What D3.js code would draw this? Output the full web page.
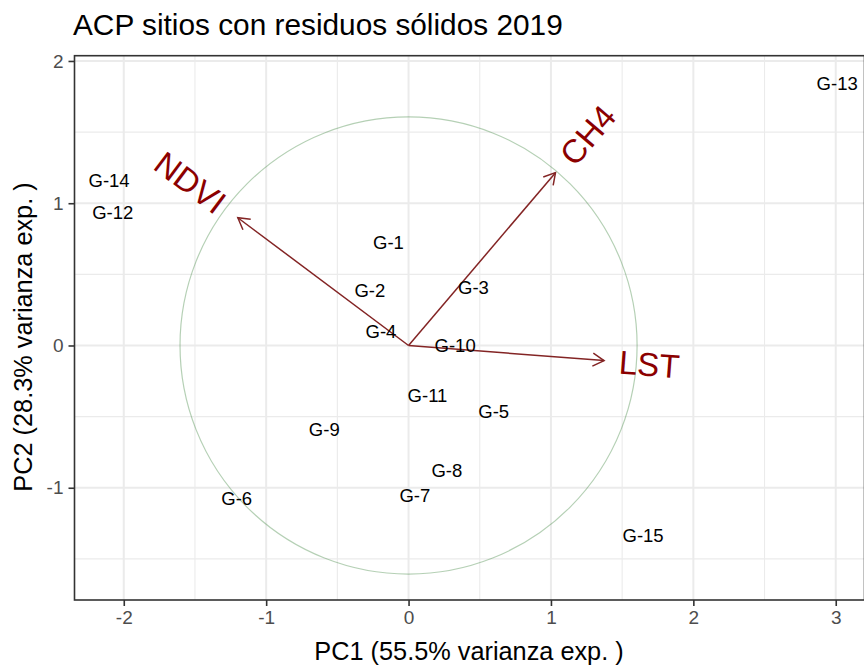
<!DOCTYPE html>
<html>
<head>
<meta charset="utf-8">
<script src="https://cdn.jsdelivr.net/npm/d3@7"></script>
<style>
  body { margin: 0; background: #fff; }
  svg { display: block; font-family: "Liberation Sans", Arial, sans-serif; }
</style>
</head>
<body>
<svg id="chart" width="864" height="666"></svg>
<script>
// PCA scores of the sampled sites (PC1, PC2)
const siteLabels = ["G-1", "G-2", "G-3", "G-4", "G-5", "G-6", "G-7", "G-8",
                    "G-9", "G-10", "G-11", "G-12", "G-13", "G-14", "G-15"];
const sitePC1 = [-0.141, -0.272, 0.456, -0.194, 0.598, -1.207, 0.044, 0.269,
                 -0.592, 0.327, 0.133, -2.077, 3.010, -2.103, 1.647];
const sitePC2 = [0.724, 0.385, 0.408, 0.096, -0.461, -1.077, -1.056, -0.876,
                 -0.591, 0.004, -0.347, 0.937, 1.843, 1.164, -1.331];

// Variable loadings (scaled arrows)
const varNames = ["NDVI", "CH4", "LST"];
const varPC1 = [-1.199, 1.032, 1.373];
const varPC2 = [0.898, 1.215, -0.106];
const circleRadius = 1.605;

// Axes
const xTicks = [-2, -1, 0, 1, 2, 3];
const yTicks = [-1, 0, 1, 2];
const xMinor = [-1.5, -0.5, 0.5, 1.5, 2.5];
const yMinor = [-1.5, -0.5, 0.5, 1.5];
const xDomain = [-2.346, 3.202];
const yDomain = [-1.789, 2.037];

const chartTitle = "ACP sitios con residuos sólidos 2019";
const xTitle = "PC1 (55.5% varianza exp. )";
const yTitle = "PC2 (28.3% varianza exp. )";

const panel = { left: 74.5, right: 864.5, top: 55.7, bottom: 600 };

const svg = d3.select("#chart");
const x = d3.scaleLinear().domain(xDomain).range([panel.left, panel.right]);
const y = d3.scaleLinear().domain(yDomain).range([panel.bottom, panel.top]);

// Panel background
svg.append("rect")
  .attr("x", panel.left).attr("y", panel.top)
  .attr("width", panel.right - panel.left).attr("height", panel.bottom - panel.top)
  .attr("fill", "#fff");

// Grid lines
const grid = svg.append("g").attr("stroke", "#ebebeb");
grid.selectAll(".vminor").data(xMinor).join("line")
  .attr("x1", d => x(d)).attr("x2", d => x(d))
  .attr("y1", panel.top).attr("y2", panel.bottom).attr("stroke-width", 1.1);
grid.selectAll(".hminor").data(yMinor).join("line")
  .attr("y1", d => y(d)).attr("y2", d => y(d))
  .attr("x1", panel.left).attr("x2", panel.right).attr("stroke-width", 1.1);
grid.selectAll(".vmajor").data(xTicks).join("line")
  .attr("x1", d => x(d)).attr("x2", d => x(d))
  .attr("y1", panel.top).attr("y2", panel.bottom).attr("stroke-width", 2);
grid.selectAll(".hmajor").data(yTicks).join("line")
  .attr("y1", d => y(d)).attr("y2", d => y(d))
  .attr("x1", panel.left).attr("x2", panel.right).attr("stroke-width", 2);

// Correlation circle
svg.append("circle")
  .attr("cx", x(0)).attr("cy", y(0))
  .attr("r", x(circleRadius) - x(0))
  .attr("fill", "none")
  .attr("stroke", "#4f8f4f")
  .attr("stroke-opacity", 0.42)
  .attr("stroke-width", 1.2);

// Loading arrows
const arrowColor = "#832424";
const headLen = 13, headAng = Math.PI / 6;
const arrows = svg.append("g").attr("stroke", arrowColor).attr("stroke-width", 1.5).attr("fill", "none");
varNames.forEach((name, i) => {
  const x0 = x(0), y0 = y(0), x1 = x(varPC1[i]), y1 = y(varPC2[i]);
  arrows.append("line").attr("x1", x0).attr("y1", y0).attr("x2", x1).attr("y2", y1);
  const a = Math.atan2(y1 - y0, x1 - x0);
  const p1 = [x1 - headLen * Math.cos(a - headAng), y1 - headLen * Math.sin(a - headAng)];
  const p2 = [x1 - headLen * Math.cos(a + headAng), y1 - headLen * Math.sin(a + headAng)];
  arrows.append("path").attr("d", `M${p1}L${x1},${y1}L${p2}`);
});

// Site labels
svg.append("g").selectAll("text").data(siteLabels).join("text")
  .attr("x", (d, i) => x(sitePC1[i]))
  .attr("y", (d, i) => y(sitePC2[i]))
  .attr("dy", "0.36em")
  .attr("text-anchor", "middle")
  .attr("font-size", 18.5)
  .attr("fill", "#000")
  .text(d => d);

// Variable names, rotated along each arrow
const varLabels = svg.append("g").selectAll("text").data(varNames).join("text")
  .attr("transform", (d, i) => {
    const ang = Math.atan(varPC2[i] / varPC1[i]) * 180 / Math.PI;
    return `translate(${x(varPC1[i])},${y(varPC2[i])}) rotate(${-ang})`;
  })
  .attr("text-anchor", (d, i) => varPC1[i] > 0 ? "start" : "end")
  .attr("dy", "0.36em")
  .attr("font-size", 33)
  .attr("fill", "#8b0000")
  .text(d => d);
varLabels.attr("dx", function (d, i) {
  const w = this.getComputedTextLength();
  return (varPC1[i] > 0 ? 1 : -1) * 0.25 * w;
});

// Panel border
svg.append("rect")
  .attr("x", panel.left).attr("y", panel.top)
  .attr("width", panel.right - panel.left).attr("height", panel.bottom - panel.top)
  .attr("fill", "none").attr("stroke", "#333").attr("stroke-width", 1.6);

// Axes
const xAxis = svg.append("g")
  .attr("transform", `translate(0,${panel.bottom})`)
  .call(d3.axisBottom(x).tickValues(xTicks).tickSize(6).tickPadding(5).tickFormat(d => String(d)));
const yAxis = svg.append("g")
  .attr("transform", `translate(${panel.left},0)`)
  .call(d3.axisLeft(y).tickValues(yTicks).tickSize(6).tickPadding(5).tickFormat(d => String(d)));
[xAxis, yAxis].forEach(g => {
  g.select(".domain").remove();
  g.selectAll(".tick line").attr("stroke", "#333").attr("stroke-width", 1.6);
  g.selectAll(".tick text").attr("fill", "#4d4d4d").attr("font-size", 19)
    .attr("font-family", "Liberation Sans, Arial, sans-serif");
});

// Titles
svg.append("text")
  .attr("x", 73).attr("y", 35)
  .attr("font-size", 29.8).attr("fill", "#000")
  .text(chartTitle);
svg.append("text")
  .attr("x", 469).attr("y", 660)
  .attr("text-anchor", "middle")
  .attr("font-size", 25.3).attr("fill", "#000")
  .text(xTitle);
svg.append("text")
  .attr("transform", `translate(32,337) rotate(-90)`)
  .attr("text-anchor", "middle")
  .attr("font-size", 25.3).attr("fill", "#000")
  .text(yTitle);
</script>
</body>
</html>
